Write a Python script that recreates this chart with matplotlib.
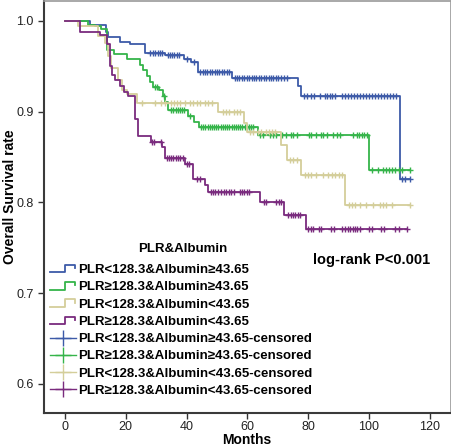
"""Kaplan-Meier curves by PLR & Albumin groups."""

import numpy as np
import matplotlib
matplotlib.use('Agg')
import matplotlib.pyplot as plt
from matplotlib.lines import Line2D
from matplotlib.legend_handler import HandlerBase

plt.rcParams['font.family'] = ['Liberation Sans', 'DejaVu Sans']

LABELS = [
    'PLR<128.3&Albumin\u226543.65',
    'PLR\u2265128.3&Albumin\u226543.65',
    'PLR<128.3&Albumin<43.65',
    'PLR\u2265128.3&Albumin<43.65',
]
COLORS = ['#3d5aa8', '#35b44a', '#d4ce9a', '#7a2b7e']

# blue group
TIMES_B = [8.2, 13.5, 14.0, 18.0, 21.4, 26.3, 32.9, 39.0, 41.5, 43.9,
           54.8, 76.6, 77.5, 110.2]
SURV_B = [0.996, 0.988, 0.982, 0.977, 0.975, 0.965, 0.962, 0.958, 0.955,
          0.944, 0.9375, 0.928, 0.9176, 0.826]
END_B = 113.5
CENS_B = [28, 29, 29.7, 30.5, 31.3, 32.0, 33.8, 34.5, 35.2, 36, 36.8, 37.5,
          40.3, 42.5, 44.5, 45.3, 46, 46.8, 47.6, 48.4, 49.2, 50, 50.8, 51.6,
          52.4, 53.2, 54, 55.8, 56.6, 57.4, 58.2, 59, 59.8, 60.6, 61.4, 62.2,
          63, 63.8, 64.6, 65.4, 66.2, 67, 67.8, 68.6, 69.4, 70.2, 71, 72, 73,
          78.5, 79.5, 81, 82, 84, 85.5, 86.3, 87.1, 88, 89, 91, 92, 93, 94,
          95, 96, 97, 98, 99, 100, 101, 102, 103, 104, 105, 106, 107, 108,
          109, 111, 112, 113.5]

# green group
TIMES_G = [7.6, 10.0, 12.0, 13.7, 16.0, 20.3, 24.7, 25.8, 26.9, 28.0, 28.8,
           31.0, 32.1, 32.9, 33.8, 40.5, 42.5, 44.0, 63.5, 100.0]
SURV_G = [0.996, 0.994, 0.991, 0.968, 0.964, 0.958, 0.951, 0.946, 0.939,
          0.933, 0.927, 0.924, 0.917, 0.911, 0.902, 0.895, 0.889, 0.883,
          0.874, 0.836]
END_G = 113.5
CENS_G = [29.5, 30.2, 32.5, 35, 35.7, 36.4, 37.1, 37.8, 38.5, 39.2, 41.2,
          44.8, 45.5, 46.2, 47, 47.7, 48.4, 49.1, 49.8, 50.5, 51.3, 52, 52.7,
          53.4, 54.1, 54.8, 55.5, 56.2, 57, 57.7, 58.4, 59.1, 59.8, 60.5,
          61.2, 62, 64.2, 65, 67.5, 68.3, 69.5, 71.5, 72.8, 74.2, 75, 76.3,
          80.2, 81, 82.5, 84.2, 85, 86.3, 88.2, 89.5, 90.5, 94.7, 96, 96.8,
          97.7, 98.5, 99.3, 101, 103, 104.5, 105.5, 106.5, 107.5, 108.5,
          110, 111, 113.5]

# tan group
TIMES_T = [4.2, 11.0, 13.2, 14.0, 15.3, 17.5, 18.6, 20.3, 23.6, 50.4, 59.0,
           59.8, 71.0, 73.2, 77.8, 92.0]
SURV_T = [0.995, 0.983, 0.976, 0.961, 0.948, 0.935, 0.924, 0.919, 0.910,
          0.900, 0.888, 0.878, 0.863, 0.847, 0.830, 0.797]
END_T = 113.5
CENS_T = [25.5, 29.5, 31.5, 33, 35, 36, 37, 38, 39.5, 41, 42, 43.5, 44.5, 46,
          47, 48.5, 52, 53, 54, 55.5, 56.5, 57.5, 61, 62, 63.5, 64.5, 66, 67,
          68, 69, 74, 75, 76.3, 79, 80, 81, 82.5, 85, 86.5, 88, 89, 90, 91,
          93.5, 94.5, 95.5, 97, 99, 101.5, 103.5, 104.5, 105.5, 107.5, 113.5]

# purple group
TIMES_P = [4.9, 11.5, 13.7, 14.8, 15.6, 16.4, 18.1, 19.4, 20.8, 23.0, 23.9,
           28.3, 32.0, 32.9, 39.5, 42.0, 46.0, 47.1, 64.0, 72.0, 79.3]
SURV_P = [0.9875, 0.9846, 0.975, 0.950, 0.940, 0.935, 0.928, 0.922, 0.917,
          0.892, 0.873, 0.867, 0.861, 0.849, 0.842, 0.826, 0.819, 0.811,
          0.800, 0.786, 0.771]
END_P = 112.5
CENS_P = [28.5, 29.3, 31.6, 33.5, 34.2, 35, 35.7, 36.5, 37.2, 38, 38.7, 40,
          40.8, 43.5, 44.3, 48, 48.7, 49.5, 50.5, 51.3, 52.3, 53, 53.8, 54.5,
          55.5, 57.5, 58.3, 59, 59.8, 60.5, 65.5, 66.3, 69.5, 70.3, 71.2,
          73.5, 74.3, 75, 75.8, 76.5, 77.3, 80, 80.8, 81.5, 83.5, 84.3, 87.5,
          88.5, 91, 92, 93, 93.8, 94.6, 95.4, 96.2, 97, 100, 101, 104, 104.8,
          108.5, 110, 112.5]

GROUPS = [
    (TIMES_B, SURV_B, END_B, CENS_B),
    (TIMES_G, SURV_G, END_G, CENS_G),
    (TIMES_T, SURV_T, END_T, CENS_T),
    (TIMES_P, SURV_P, END_P, CENS_P),
]


class StepHandler(HandlerBase):
    """Draw the SPSS-like step icon in the legend."""

    def create_artists(self, legend, orig_handle, xdescent, ydescent,
                       width, height, fontsize, trans):
        xs = np.array([0.0, 0.55, 0.55, 0.95, 0.95]) * width - xdescent
        ys = np.array([0.1, 0.1, 0.9, 0.9, 0.55]) * height - ydescent
        line = Line2D(xs, ys, color=orig_handle.get_color(),
                      lw=orig_handle.get_linewidth())
        line.set_transform(trans)
        return [line]


def run():
    fig = plt.figure(figsize=(4.52, 4.46), dpi=100)
    ax = fig.add_axes([44 / 452, 33 / 446, 407 / 452, 412 / 446])

    step_handles = []
    cens_handles = []
    for (times, surv, end, cens), col in zip(GROUPS, COLORS):
        t = np.array([0.0] + times + [end])
        s = np.array([1.0] + surv + [surv[-1]])
        ln, = ax.step(t, s, where='post', color=col, lw=1.3)
        c = np.array(cens)
        cy = s[np.searchsorted(t, c, side='right') - 1]
        ax.plot(c, cy, ls='none', marker='+', ms=4.5, mew=1.0, color=col)
        step_handles.append(ln)
        cens_handles.append(Line2D([], [], color=col, lw=1.0, marker='+',
                                   ms=12, mew=1.0))

    ax.set_xlim(-6.9, 127)
    ax.set_ylim(0.568, 1.022)
    ax.set_xticks(np.arange(0, 121, 20))
    ax.set_yticks([0.6, 0.7, 0.8, 0.9, 1.0])
    ax.set_yticklabels(['0.6', '0.7', '0.8', '0.9', '1.0'])
    ax.tick_params(direction='out', length=4, width=1, labelsize=9,
                   color='#333333', labelcolor='#222222')
    ax.tick_params(axis='x', pad=2)

    for side in ('left', 'bottom'):
        ax.spines[side].set_color('#3a3a3a')
        ax.spines[side].set_linewidth(1.5)
    for side in ('top', 'right'):
        ax.spines[side].set_color('#9a9a9a')
        ax.spines[side].set_linewidth(1.2)

    ax.set_xlabel('Months', fontsize=10, fontweight='bold')
    ax.set_ylabel('Overall Survival rate', fontsize=10, fontweight='bold')
    ax.xaxis.set_label_coords(0.499, -0.048)
    ax.yaxis.set_label_coords(-0.066, 0.524)

    ax.text(0.661, 0.372, 'log-rank P<0.001', transform=ax.transAxes,
            fontsize=10.5, fontweight='bold', va='center', ha='left')

    # legend title drawn separately, SPSS puts a wider gap under it
    fig.text(183 / 452, (446 - 249) / 446, 'PLR&Albumin', fontsize=9.5,
             fontweight='bold', ha='center', va='center')

    handles = step_handles + cens_handles
    labels = LABELS + [lb + '-censored' for lb in LABELS]
    hmap = {h: StepHandler() for h in step_handles}
    ax.legend(handles, labels, handler_map=hmap, loc='upper left',
              bbox_to_anchor=(50 / 452, (446 - 264) / 446),
              bbox_transform=fig.transFigure,
              frameon=False, borderpad=0, borderaxespad=0,
              handlelength=2.0, handletextpad=0.15, labelspacing=0.38,
              prop={'size': 9.5, 'weight': 'bold'})

    fig.savefig('out.png', dpi=100)


if __name__ == "__main__":
    run()
